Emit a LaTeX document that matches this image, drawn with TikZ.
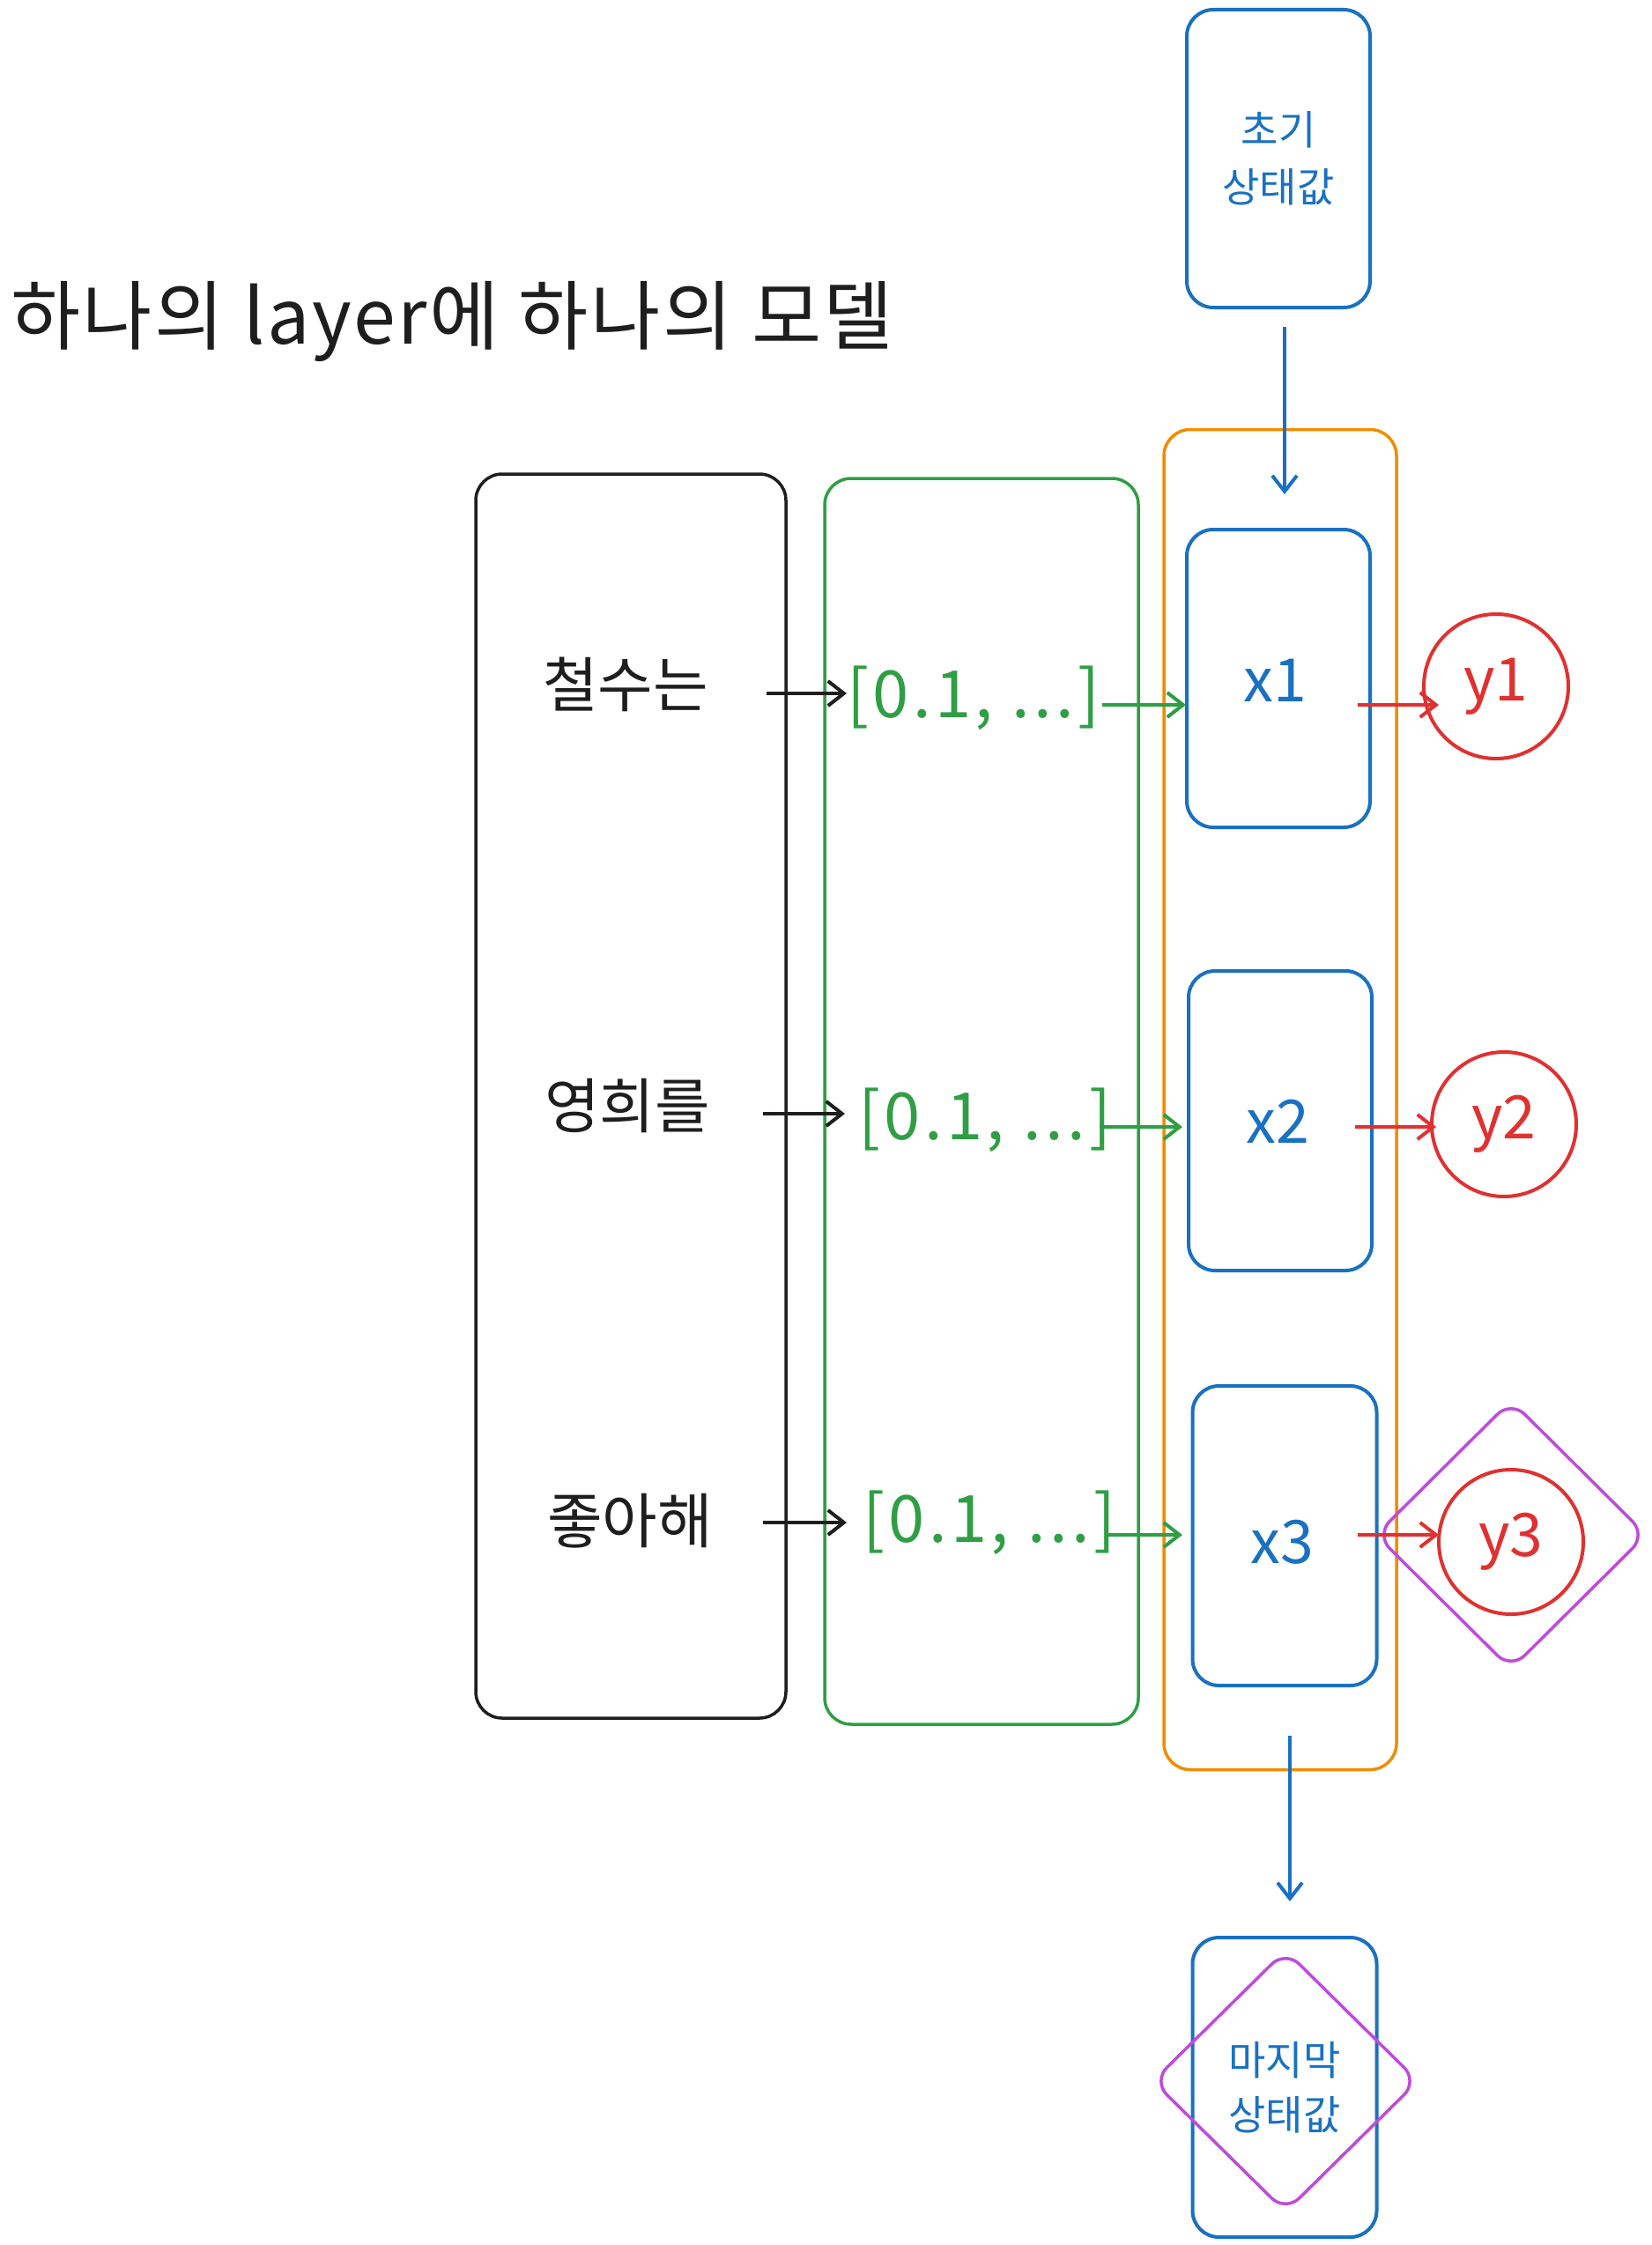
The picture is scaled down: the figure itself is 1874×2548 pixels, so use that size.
\documentclass[tikz,border=0pt]{standalone}
\usepackage{fontspec}
\setmainfont{Noto Sans CJK KR}
\usetikzlibrary{arrows.meta,shapes.geometric}
\definecolor{ink}{HTML}{1E1E1E}
\definecolor{cblue}{HTML}{1971C2}
\definecolor{cgreen}{HTML}{2F9E44}
\definecolor{corange}{HTML}{F08C00}
\definecolor{cred}{HTML}{E03131}
\definecolor{cpurple}{HTML}{BE4BDB}
\tikzset{
  box/.style={draw, rounded corners=30pt, line width=3.5pt, inner sep=0pt, align=center},
  lbl/.style={inner sep=0pt, text=ink, font=\fontsize{68}{80}\selectfont},
  vec/.style={inner sep=0pt, text=cgreen, font=\fontsize{74}{88}\selectfont\addfontfeature{LetterSpace=6}},
  xlbl/.style={inner sep=0pt, text=cblue, font=\fontsize{68}{80}\selectfont},
  ylbl/.style={circle, draw=cred, line width=4pt, minimum size=164pt, inner sep=0pt, text=cred, font=\fontsize{68}{80}\selectfont},
  dia/.style={diamond, draw=cpurple, line width=3.5pt, rounded corners=22pt, inner sep=0pt},
  conn/.style={line width=4pt, -{Straight Barb[length=18pt,width=28pt,line width=4pt]}},
}
\begin{document}
\begin{tikzpicture}[x=1pt,y=-1pt]
\useasboundingbox[fill=white] (0,0) rectangle (1874,2548);

% title
\node[anchor=base west, inner sep=0pt, text=ink, font=\fontsize{86}{100}\selectfont\addfontfeature{LetterSpace=3}] (title) at (12,390) {하나의 layer에 하나의 모델};

% big containers
\node[box, draw=ink, minimum width=352pt, minimum height=1412pt] (words) at (716,1244) {};
\node[box, draw=cgreen, minimum width=356pt, minimum height=1414pt] (emb) at (1114,1250) {};
\node[box, draw=corange, line width=3.5pt, minimum width=264pt, minimum height=1521pt] (layer) at (1453,1248) {};

% state boxes
\node[box, draw=cblue, line width=4pt, minimum width=208pt, minimum height=338pt, text=cblue, font=\fontsize{46}{65}\selectfont] (init) at (1451,180) {초기\\상태값};
\node[box, draw=cblue, line width=4pt, minimum width=209pt, minimum height=340pt, text=cblue, font=\fontsize{46}{62}\selectfont] (final) at (1458,2369) {마지막\\상태값};
\node[dia, minimum width=302pt, minimum height=298pt] (finaldia) at (1459,2362) {};

% x boxes
\node[box, draw=cblue, line width=4pt, minimum width=208pt, minimum height=338pt] (x1box) at (1451,770) {};
\node[box, draw=cblue, line width=4pt, minimum width=208pt, minimum height=340pt] (x2box) at (1453,1272) {};
\node[box, draw=cblue, line width=4pt, minimum width=209pt, minimum height=340pt] (x3box) at (1458,1743) {};
\node[xlbl] (x1) at (1447,772) {x1};
\node[xlbl] (x2) at (1450,1273) {x2};
\node[xlbl] (x3) at (1455,1750) {x3};

% words
\node[lbl] (w1) at (710,777) {철수는};
\node[lbl] (w2) at (712,1255) {영희를};
\node[lbl] (w3) at (715,1726) {좋아해};

% vectors
\node[vec] (v1) at (1105,792) {[0.1, ...]};
\node[vec] (v2) at (1118,1271) {[0.1, ...]};
\node[vec] (v3) at (1123,1728) {[0.1, ...]};

% outputs
\node[ylbl] (y1) at (1698,779) {y1};
\node[ylbl] (y2) at (1707,1276) {y2};
\node[dia, minimum width=308pt, minimum height=306pt] (y3dia) at (1715,1742) {};
\node[ylbl] (y3) at (1715,1750) {y3};

% connector end points
\coordinate (a1s) at (870,787);  \coordinate (a1e) at (961,787);
\coordinate (a2s) at (866,1264); \coordinate (a2e) at (959,1264);
\coordinate (a3s) at (866,1728); \coordinate (a3e) at (961,1728);
\coordinate (g1s) at (1251,800); \coordinate (g1e) at (1346,800);
\coordinate (g2s) at (1248,1279);\coordinate (g2e) at (1342,1279);
\coordinate (g3s) at (1255,1742);\coordinate (g3e) at (1342,1742);
\coordinate (r1s) at (1541,800); \coordinate (r1e) at (1633,800);
\coordinate (r2s) at (1538,1279);\coordinate (r2e) at (1630,1279);
\coordinate (r3s) at (1541,1742);\coordinate (r3e) at (1633,1742);
\coordinate (ts) at (1458,371);  \coordinate (te) at (1458,561);
\coordinate (bs) at (1464,1970); \coordinate (be) at (1464,2158);

\draw[conn, draw=ink] (a1s) -- (a1e);
\draw[conn, draw=ink] (a2s) -- (a2e);
\draw[conn, draw=ink] (a3s) -- (a3e);
\draw[conn, draw=cgreen] (g1s) -- (g1e);
\draw[conn, draw=cgreen] (g2s) -- (g2e);
\draw[conn, draw=cgreen] (g3s) -- (g3e);
\draw[conn, draw=cred] (r1s) -- (r1e);
\draw[conn, draw=cred] (r2s) -- (r2e);
\draw[conn, draw=cred] (r3s) -- (r3e);
\draw[conn, draw=cblue] (ts) -- (te);
\draw[conn, draw=cblue] (bs) -- (be);
\end{tikzpicture}
\end{document}
